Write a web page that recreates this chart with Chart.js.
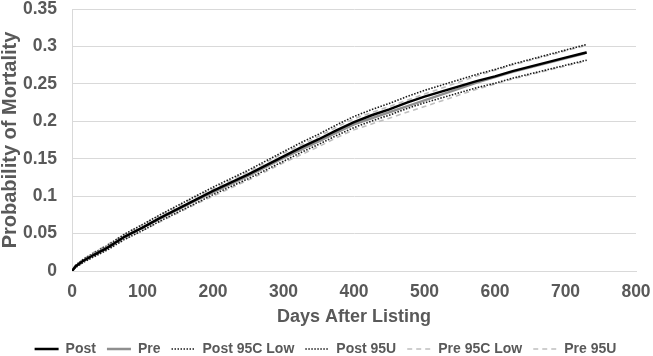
<!DOCTYPE html>
<html><head><meta charset="utf-8">
<style>html,body{margin:0;padding:0;background:#fff}#wrap{width:653px;height:356px}</style>
<script src="https://cdn.jsdelivr.net/npm/chart.js@4"></script>
</head><body><div id="wrap"><canvas id="c" width="653" height="356"></canvas></div>
<script>
const days = [0,5,15,30,50,75,100,125,150,175,200,225,250,275,300,325,350,375,400,425,450,475,500,525,550,575,600,625,650,675,700,725,730];
const post = [0,0.006,0.013,0.021,0.031,0.046,0.058,0.071,0.083,0.095,0.107,0.118,0.129,0.141,0.153,0.165,0.176,0.188,0.199,0.208,0.216,0.225,0.233,0.240,0.247,0.254,0.260,0.267,0.273,0.279,0.285,0.291,0.292];
const pre = [0,0.006,0.013,0.022,0.032,0.046,0.058,0.070,0.082,0.094,0.105,0.116,0.127,0.139,0.151,0.162,0.173,0.185,0.196,0.204,0.212,0.220,0.228,0.236,0.244,0.252,0.259,0.266,0.272,0.278,0.284,0.290,0.292];
const post95Low = [0,0.0045,0.011,0.0185,0.028,0.0425,0.054,0.0668,0.0785,0.0902,0.102,0.1127,0.1234,0.135,0.1466,0.1584,0.1692,0.1809,0.1916,0.2004,0.2082,0.217,0.2247,0.2315,0.2383,0.2451,0.2508,0.2576,0.2634,0.2691,0.2749,0.2806,0.2815];
const post95U = [0,0.0075,0.015,0.0235,0.034,0.0495,0.062,0.0752,0.0875,0.0998,0.112,0.1233,0.1346,0.147,0.1594,0.1716,0.1828,0.1951,0.2064,0.2156,0.2238,0.233,0.2413,0.2485,0.2557,0.2629,0.2692,0.2764,0.2826,0.2889,0.2951,0.3014,0.3025];
const pre95Low = [0,0.0045,0.011,0.0195,0.029,0.0425,0.054,0.0658,0.0775,0.0892,0.100,0.1107,0.1214,0.133,0.1446,0.1554,0.1662,0.1779,0.1886,0.1964,0.2042,0.212,0.2197,0.2275,0.2353,0.2431,0.2498,0.2566,0.2624,0.2681,0.2739,0.2796,0.2815];
const pre95U = [0,0.0075,0.015,0.0245,0.035,0.0495,0.062,0.0742,0.0865,0.0988,0.110,0.1213,0.1326,0.145,0.1574,0.1686,0.1798,0.1921,0.2034,0.2116,0.2198,0.228,0.2363,0.2445,0.2527,0.2609,0.2682,0.2754,0.2816,0.2879,0.2941,0.3004,0.3025];
const seriesNames = ['Post','Pre','Post 95C Low','Post 95U','Pre 95C Low','Pre 95U'];
const xTickLabels = ['0','100','200','300','400','500','600','700','800'];
const yTickLabels = ['0','0.05','0.1','0.15','0.2','0.25','0.3','0.35'];
const xTitle = 'Days After Listing';
const yTitle = 'Probability of Mortality';

const FONT = '"Liberation Sans", Arial, sans-serif';
const TXT = '#595959';
const pts = arr => days.map((d, i) => ({x: d, y: arr[i]}));
const styles = [
  {borderColor:'#000000', borderWidth:2.5, borderDash:[]},
  {borderColor:'#8f8f8f', borderWidth:2.5, borderDash:[]},
  {borderColor:'#1a1a1a', borderWidth:1.6, borderDash:[1.5,1.5]},
  {borderColor:'#1a1a1a', borderWidth:1.6, borderDash:[1.5,1.5]},
  {borderColor:'#bfbfbf', borderWidth:1.6, borderDash:[5,4]},
  {borderColor:'#bfbfbf', borderWidth:1.6, borderDash:[5,4]}
];
const series = [post, pre, post95Low, post95U, pre95Low, pre95U];
const datasets = series.map((s, i) => Object.assign({
  label: seriesNames[i], data: pts(s), pointRadius: 0, pointHoverRadius: 0,
  tension: 0, fill: false, backgroundColor: styles[i].borderColor
}, styles[i]));

const legendShift = {
  id: 'legendShift',
  afterLayout(chart) { const l = chart.legend; if (l) { l.left += 7.5; l.right += 7.5; } }
};

new Chart(document.getElementById('c'), {
  type: 'line',
  data: { datasets },
  plugins: [legendShift],
  options: {
    responsive: false, animation: false, devicePixelRatio: 1,
    layout: { padding: { left: 0, right: 17, top: 9, bottom: -10 } },
    plugins: {
      tooltip: { enabled: false },
      legend: {
        position: 'bottom',
        labels: {
          usePointStyle: true, pointStyle: 'line', pointStyleWidth: 24, boxWidth: 24, boxHeight: 14,
          padding: 11, color: TXT, font: { family: FONT, size: 14, weight: 'bold' },
          generateLabels: chart => chart.data.datasets.map((ds, i) => ({
            text: ds.label, datasetIndex: i, hidden: false,
            strokeStyle: ds.borderColor, fillStyle: ds.borderColor,
            lineWidth: ds.borderWidth, lineDash: ds.borderDash, lineCap: 'butt',
            pointStyle: 'line', fontColor: TXT
          }))
        }
      }
    },
    scales: {
      x: {
        type: 'linear', min: 0, max: 800,
        ticks: { stepSize: 100, padding: 11, color: TXT, font: { family: FONT, size: 17.5, weight: 'bold' },
          callback: (v, i) => xTickLabels[i] },
        grid: { display: false, drawTicks: false },
        border: { display: true, color: '#d9d9d9', width: 1 },
        title: { display: true, text: xTitle, color: TXT, padding: { top: 0, bottom: 3 },
          font: { family: FONT, size: 18, weight: 'bold' } },
        afterFit(s) { s.height = 60; s.paddingLeft = 0; s.paddingRight = 0; }
      },
      y: {
        min: 0, max: 0.35,
        ticks: { stepSize: 0.05, padding: 15, color: TXT, font: { family: FONT, size: 17.5, weight: 'bold' },
          callback: (v, i) => yTickLabels[i] },
        grid: { color: '#d9d9d9', lineWidth: 1, drawTicks: false },
        border: { display: true, color: '#d9d9d9', width: 1 },
        title: { display: true, text: yTitle, color: TXT, padding: { top: 0, bottom: 0 },
          font: { family: FONT, size: 20, weight: 'bold', lineHeight: 1 } },
        afterFit(s) { s.width = 72; s.paddingTop = 0; s.paddingBottom = 0; }
      }
    }
  }
});
</script></body></html>
